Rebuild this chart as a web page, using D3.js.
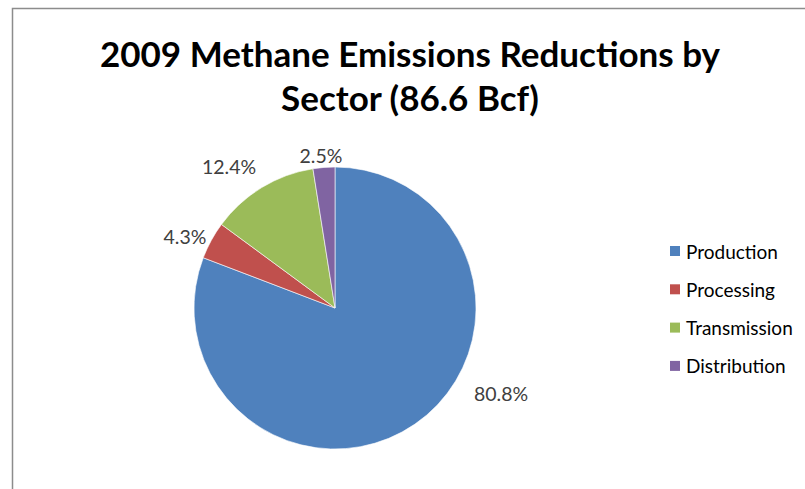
<!DOCTYPE html>
<html>
<head>
<meta charset="utf-8">
<script src="https://cdn.jsdelivr.net/npm/d3@7"></script>
<style>
  body { margin: 0; background: #fff; }
  text { font-family: Lato, "Open Sans", sans-serif; }
</style>
</head>
<body>
<script>
// data
const sectors = ["Production", "Processing", "Transmission", "Distribution"];
const shares = [80.8, 4.3, 12.4, 2.5];
const colors = ["#4F81BD", "#C0504D", "#9BBB59", "#8064A2"];
const titleLines = ["2009 Methane Emissions Reductions by", "Sector (86.6 Bcf)"];
// where each percentage label sits
const labelPos = [[501, 393], [185, 236], [229, 166], [321, 155]];

const W = 805, H = 489;
const svg = d3.select("body").append("svg")
    .attr("width", W)
    .attr("height", H);

// chart frame
svg.append("rect")
    .attr("x", 12.5).attr("y", 8.5)
    .attr("width", W + 20).attr("height", H + 20)
    .attr("fill", "#fff")
    .attr("stroke", "#8c8c8c")
    .attr("stroke-width", 1.5);

// title
svg.selectAll("text.title")
  .data(titleLines)
  .join("text")
    .attr("class", "title")
    .attr("x", 410)
    .attr("y", (d, i) => 67 + i * 44)
    .attr("text-anchor", "middle")
    .attr("font-size", 35)
    .attr("font-weight", "bold")
    .attr("fill", "#000")
    .text(d => d);

// pie
const cx = 335, cy = 308, r = 141;
const color = d3.scaleOrdinal().domain(sectors).range(colors);
const pie = d3.pie().sort(null).value(d => d.v);
const arc = d3.arc().innerRadius(0).outerRadius(r);
const data = sectors.map((s, i) => ({ s, v: shares[i] }));

const g = svg.append("g").attr("transform", `translate(${cx},${cy})`);
g.selectAll("path")
  .data(pie(data))
  .join("path")
    .attr("d", arc)
    .attr("fill", d => color(d.data.s))
    .attr("stroke", "#fff")
    .attr("stroke-width", 0.6);

// percentage labels
svg.selectAll("text.pct")
  .data(data)
  .join("text")
    .attr("class", "pct")
    .attr("x", (d, i) => labelPos[i][0])
    .attr("y", (d, i) => labelPos[i][1])
    .attr("text-anchor", "middle")
    .attr("dominant-baseline", "central")
    .attr("font-size", 19.5)
    .attr("fill", "#404040")
    .text(d => d.v.toFixed(1) + "%");

// legend
const legend = svg.append("g").attr("transform", "translate(670,251)");
const rows = legend.selectAll("g")
  .data(sectors)
  .join("g")
    .attr("transform", (d, i) => `translate(0,${i * 38.3})`);
rows.append("rect")
    .attr("x", 0).attr("y", -5)
    .attr("width", 10).attr("height", 10)
    .attr("fill", d => color(d));
rows.append("text")
    .attr("x", 16)
    .attr("y", 0)
    .attr("dominant-baseline", "central")
    .attr("font-size", 19)
    .attr("fill", "#000")
    .text(d => d);
</script>
</body>
</html>
